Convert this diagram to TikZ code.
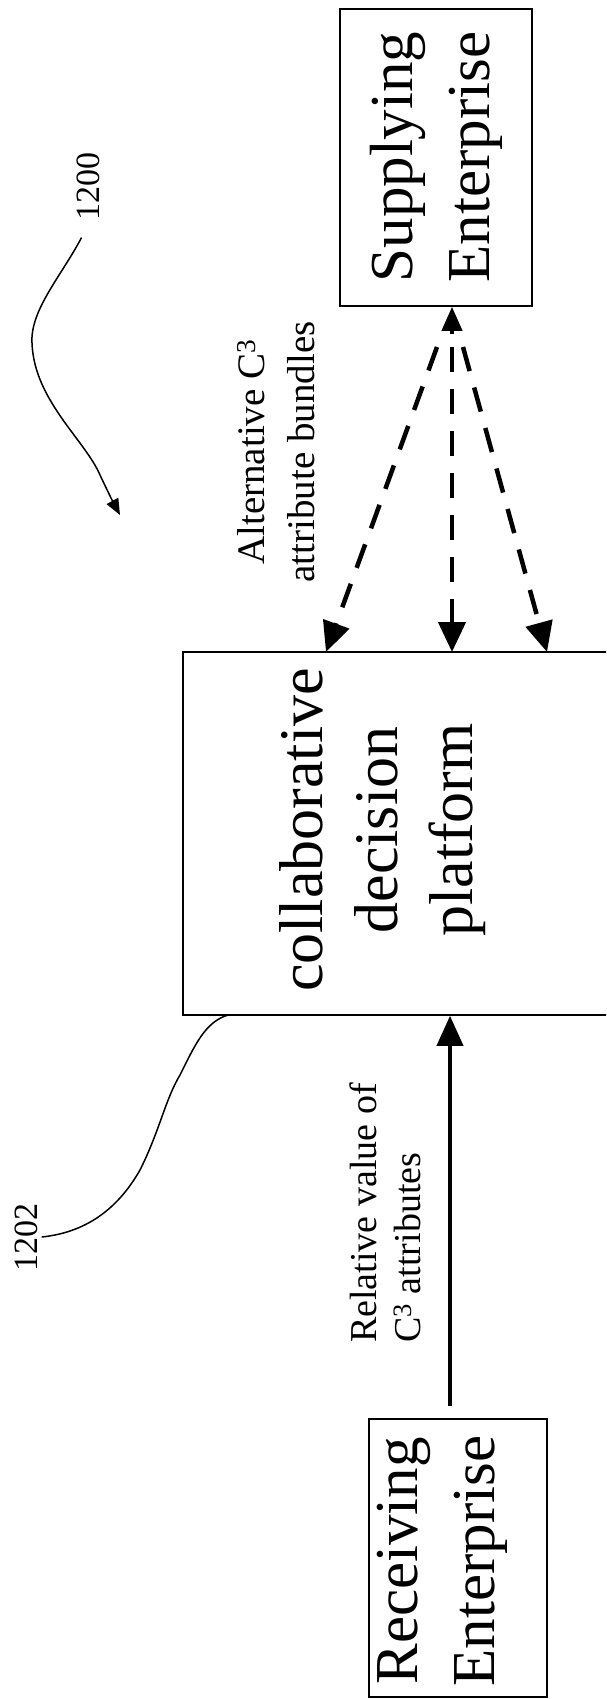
\documentclass[tikz,border=0pt]{standalone}
\usepackage{fontspec}
\setmainfont{Liberation Serif}
\usetikzlibrary{arrows.meta}
\begin{document}
\begin{tikzpicture}[x=1pt,y=-1pt,
  box/.style={draw,line width=1.6pt,inner sep=0pt},
  bigtxt/.style={rotate=90,align=center,font=\fontsize{61}{77}\selectfont,inner sep=0pt},
  lbl/.style={rotate=90,align=center,font=\fontsize{39}{50}\selectfont,inner sep=0pt},
  refnum/.style={rotate=90,font=\fontsize{34}{40}\selectfont,inner sep=4pt},
  dasharrow/.style={line width=4.5pt,dash pattern=on 25pt off 17pt,-{Triangle[length=30pt,width=27pt]}},
  solidarrow/.style={line width=4pt,-{Triangle[length=30pt,width=26pt]}},
  leader/.style={line width=1.5pt}
]
\useasboundingbox (0,0) rectangle (606,1699);
\clip (0,0) rectangle (606,1699);
\fill[white] (0,0) rectangle (606,1699);

% boxes
\node[box,minimum width=192pt,minimum height=297pt] (supply) at (436,157.5) {};
\node[bigtxt] (supplytext) at (436,157) {Supplying\\Enterprise};
\node[box,minimum width=467pt,minimum height=363pt] (collab) at (416.5,833.5) {};
\node[bigtxt,font=\fontsize{62}{75}\selectfont] (collabtext) at (383,830) {collaborative\\decision\\platform};
\node[box,minimum width=178pt,minimum height=278pt] (receive) at (458,1558) {};
\node[bigtxt] (receivetext) at (442,1561) {Receiving\\Enterprise};

% labels
\node[lbl] (alt) at (276,452) {Alternative C\textsuperscript{3}\\attribute bundles};
\node[lbl,align=left,font=\fontsize{38}{44}\selectfont] (rel) at (385,1213) {Relative value of\\C\textsuperscript{3} attributes};
\node[refnum] (l1200) at (88,187) {1200};
\node[refnum] (l1202) at (26,1237) {1202};

% dashed fan
\coordinate (hub) at (452,334);
\draw[line width=4pt,-{Triangle[length=24pt,width=20pt]}] (hub) -- (hub |- supply.south);
\coordinate (sL) at (437,347);
\coordinate (sM) at (452,347);
\coordinate (sR) at (463,347);
\coordinate (tL) at (326,652);
\coordinate (tM) at (452,652);
\coordinate (tR) at (547,652);
\draw[dasharrow] (sL) -- (tL);
\draw[dasharrow] (sM) -- (tM);
\draw[dasharrow] (sR) -- (tR);

% solid arrow
\coordinate (rs) at (450,1406);
\draw[solidarrow] (rs) -- (rs |- collab.south);

% leader lines
\coordinate (a1200) at (120,515);
\draw[leader,shorten <=14pt,-{Triangle[length=16pt,width=13pt]}] (l1200.west)
  .. controls (62,275) and (30,310) .. (32,343)
  .. controls (34,400) and (85,440) .. (100,475)
  .. controls (108,492) and (113,502) .. (a1200);
\coordinate (c1202) at (228,1015);
\draw[leader] (l1202.south)
  .. controls (90,1232) and (120,1205) .. (140,1170)
  .. controls (160,1130) and (165,1100) .. (180,1075)
  .. controls (195,1045) and (205,1022) .. (c1202);
\end{tikzpicture}
\end{document}
